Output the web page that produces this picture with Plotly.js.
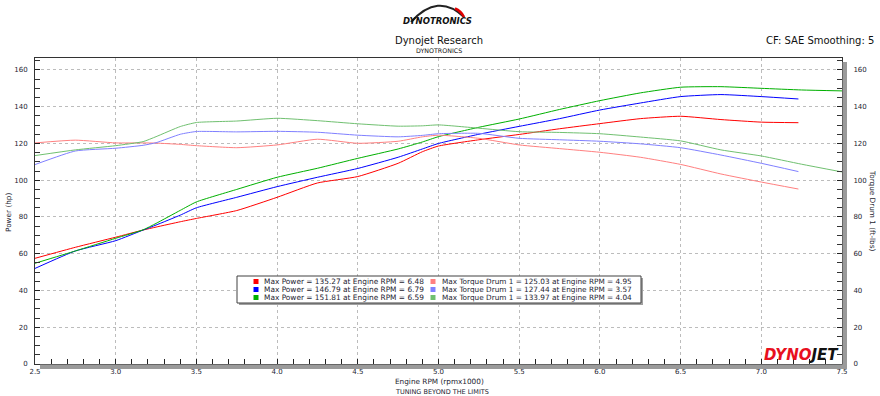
<!DOCTYPE html>
<html>
<head>
<meta charset="utf-8">
<script src="https://cdn.plot.ly/plotly-3.0.1.min.js"></script>
<style>html,body{margin:0;padding:0;background:#fff;}#chart{width:880px;height:396px;}</style>
</head>
<body>
<div id="chart"></div>
<script>
// ---- data ----
const rpmRun1 = [2.5,2.75,3.0,3.17,3.25,3.4,3.5,3.75,4.0,4.25,4.5,4.75,4.9,5.0,5.25,5.5,5.75,6.0,6.25,6.5,6.75,7.0,7.23];
const rpmRun2 = [2.5,2.75,3.0,3.17,3.25,3.4,3.5,3.75,4.0,4.25,4.5,4.75,4.9,5.0,5.25,5.5,5.75,6.0,6.25,6.5,6.75,7.0,7.23];
const rpmRun3 = [2.5,2.75,3.0,3.17,3.25,3.4,3.5,3.75,4.0,4.25,4.5,4.75,4.9,5.0,5.25,5.5,5.75,6.0,6.25,6.5,6.75,7.0,7.25,7.5];

const powerRun1  = [57.5,63.5,69.0,72.9,74.5,77.4,79.2,83.5,90.7,98.5,102.0,109.2,115.5,118.6,122.0,124.9,128.0,130.8,133.5,134.8,133.0,131.6,131.3];
const torqueRun1 = [120.3,121.8,120.3,120.3,120.2,119.5,118.8,117.7,119.2,122.3,120.1,121.2,123.6,124.5,122.8,119.2,117.2,115.2,112.5,108.6,103.4,99.0,95.2];

const powerRun2  = [52.0,61.5,67.1,72.9,75.6,81.0,85.0,90.7,96.5,101.6,106.4,112.5,117.0,120.0,125.0,129.3,133.5,138.2,142.0,145.5,146.6,145.5,144.2];
const torqueRun2 = [108.5,115.9,117.4,119.0,120.4,125.0,126.5,126.3,126.6,126.1,124.5,123.6,124.4,125.3,125.5,122.8,122.0,121.2,119.8,117.7,113.7,109.2,104.7];

const powerRun3  = [54.8,61.5,68.4,73.0,76.5,83.6,88.2,95.0,101.6,106.5,111.9,117.0,120.8,123.7,128.8,133.3,138.5,143.3,147.5,150.6,150.9,150.0,149.1,148.6];
const torqueRun3 = [113.4,116.5,118.8,121.0,123.7,129.2,131.4,132.2,133.7,132.4,130.7,129.4,129.6,130.1,128.3,126.4,126.0,125.3,123.5,121.4,116.5,113.2,108.7,104.5];

const maxPower     = [135.27,146.79,151.81];
const maxPowerRpm  = [6.48,6.79,6.59];
const maxTorque    = [125.03,127.44,133.97];
const maxTorqueRpm = [4.95,3.57,4.04];

const xTickVals = [2.5,3.0,3.5,4.0,4.5,5.0,5.5,6.0,6.5,7.0,7.5];
const yTickVals = [0,20,40,60,80,100,120,140,160];

// ---- styling ----
const powerColors  = ['#ff0000','#0000ff','#00b000'];
const torqueColors = ['#ff8080','#8080ff','#70c070'];
const FONT = 'DejaVu Sans, Verdana, sans-serif';
const TXT = '#1c1c30';

// plot area in pixels: x 35..842, y 58..364
const L = 35, R = 842, T = 58, B = 364;
const px = v => (v - L) / (R - L);
const py = v => (B - v) / (B - T);

const runs = [
  {rpm: rpmRun1, p: powerRun1, t: torqueRun1},
  {rpm: rpmRun2, p: powerRun2, t: torqueRun2},
  {rpm: rpmRun3, p: powerRun3, t: torqueRun3}
];

const traces = [];
runs.forEach((r, i) => {
  traces.push({x: r.rpm, y: r.t, type: 'scatter', mode: 'lines', yaxis: 'y2',
    line: {color: torqueColors[i], width: 1, shape: 'spline', smoothing: 0.5}, showlegend: false, hoverinfo: 'skip'});
});
runs.forEach((r, i) => {
  traces.push({x: r.rpm, y: r.p, type: 'scatter', mode: 'lines', yaxis: 'y',
    line: {color: powerColors[i], width: 1, shape: 'spline', smoothing: 0.5}, showlegend: false, hoverinfo: 'skip'});
});

const shapes = [];
const annotations = [];

// legend box with shadow
shapes.push({type: 'rect', xref: 'paper', yref: 'paper', x0: px(239), x1: px(643), y0: py(305), y1: py(278),
  fillcolor: '#a0a0a0', line: {width: 0}, layer: 'above'});
shapes.push({type: 'rect', xref: 'paper', yref: 'paper', x0: px(237), x1: px(641), y0: py(303), y1: py(276),
  fillcolor: '#ffffff', line: {color: '#404040', width: 1}, layer: 'above'});
const rowsY = [281.5, 289.5, 297.5];
for (let i = 0; i < 3; i++) {
  const y = rowsY[i];
  shapes.push({type: 'rect', xref: 'paper', yref: 'paper', x0: px(253.5), x1: px(258.5), y0: py(y + 2.5), y1: py(y - 2.5),
    fillcolor: powerColors[i], line: {width: 0}, layer: 'above'});
  shapes.push({type: 'rect', xref: 'paper', yref: 'paper', x0: px(430.5), x1: px(435.5), y0: py(y + 2.5), y1: py(y - 2.5),
    fillcolor: torqueColors[i], line: {width: 0}, layer: 'above'});
  annotations.push({xref: 'paper', yref: 'paper', x: px(262), y: py(y), xanchor: 'left', yanchor: 'middle', showarrow: false,
    text: 'Max Power = ' + maxPower[i].toFixed(2) + ' at Engine RPM = ' + maxPowerRpm[i].toFixed(2),
    font: {family: FONT, size: 7.4, color: TXT}});
  annotations.push({xref: 'paper', yref: 'paper', x: px(439.5), y: py(y), xanchor: 'left', yanchor: 'middle', showarrow: false,
    text: 'Max Torque Drum 1 = ' + maxTorque[i].toFixed(2) + ' at Engine RPM = ' + maxTorqueRpm[i].toFixed(2),
    font: {family: FONT, size: 7.3, color: TXT}});
}

// gray shadow bars along bottom and right axes
shapes.push({type: 'rect', xref: 'paper', yref: 'paper', x0: px(40), x1: px(847), y0: py(369), y1: py(364.5),
  fillcolor: '#9a9a9a', line: {width: 0}, layer: 'above'});
shapes.push({type: 'rect', xref: 'paper', yref: 'paper', x0: px(842.5), x1: px(847), y0: py(369), y1: py(62),
  fillcolor: '#9a9a9a', line: {width: 0}, layer: 'above'});

// top logo gauge arc
shapes.push({type: 'path', xref: 'paper', yref: 'paper', layer: 'above',
  path: 'M ' + px(411) + ',' + py(22) + ' Q ' + px(438) + ',' + py(-8) + ' ' + px(464) + ',' + py(17),
  line: {color: '#222', width: 2}});
shapes.push({type: 'path', xref: 'paper', yref: 'paper', layer: 'above',
  path: 'M ' + px(455) + ',' + py(8.5) + ' Q ' + px(461) + ',' + py(11) + ' ' + px(464) + ',' + py(17),
  line: {color: '#e00000', width: 2.5}});

// header texts
annotations.push({xref: 'paper', yref: 'paper', x: px(437), y: py(21.5), xanchor: 'center', yanchor: 'middle', showarrow: false,
  text: '<b><i>DYNOTRONICS</i></b>', font: {family: FONT, size: 8.5, color: '#111'}});
annotations.push({xref: 'paper', yref: 'paper', x: px(439), y: py(40), xanchor: 'center', yanchor: 'middle', showarrow: false,
  text: 'Dynojet Research', font: {family: FONT, size: 10, color: '#111'}});
annotations.push({xref: 'paper', yref: 'paper', x: px(439), y: py(50.5), xanchor: 'center', yanchor: 'middle', showarrow: false,
  text: 'DYNOTRONICS', font: {family: FONT, size: 6.3, color: '#111'}});
annotations.push({xref: 'paper', yref: 'paper', x: px(876), y: py(40), xanchor: 'right', yanchor: 'middle', showarrow: false,
  text: 'CF: SAE Smoothing: 5', font: {family: FONT, size: 10, color: '#111'}});

// axis titles and footer
annotations.push({xref: 'paper', yref: 'paper', x: px(440), y: py(381.5), xanchor: 'center', yanchor: 'middle', showarrow: false,
  text: 'Engine RPM (rpmx1000)', font: {family: FONT, size: 7.3, color: TXT}});
annotations.push({xref: 'paper', yref: 'paper', x: px(442), y: py(392), xanchor: 'center', yanchor: 'middle', showarrow: false,
  text: 'TUNING BEYOND THE LIMITS', font: {family: FONT, size: 6.5, color: TXT}});
annotations.push({xref: 'paper', yref: 'paper', x: px(8), y: py(213), xanchor: 'center', yanchor: 'middle', showarrow: false,
  textangle: -90, text: 'Power (hp)', font: {family: FONT, size: 7.3, color: TXT}});
annotations.push({xref: 'paper', yref: 'paper', x: px(873), y: py(210), xanchor: 'center', yanchor: 'middle', showarrow: false,
  textangle: 90, text: 'Torque Drum 1 (ft-lbs)', font: {family: FONT, size: 7.3, color: TXT}});

// DYNOJET logo
annotations.push({xref: 'paper', yref: 'paper', x: px(841), y: py(355), xanchor: 'right', yanchor: 'middle', showarrow: false,
  text: '<b><i><span style="color:#e8101e">DYNO</span><span style="color:#111">JET</span></i></b>',
  font: {family: FONT, size: 15, color: '#111'}});

const yCommon = {
  range: [0, 166.5], tickvals: yTickVals, ticktext: yTickVals.map(String),
  ticks: 'inside', ticklen: 5, tickwidth: 1, tickcolor: '#222',
  minor: {dtick: 5, ticks: 'inside', ticklen: 5, tickcolor: '#333', showgrid: false},
  tickfont: {family: FONT, size: 7, color: TXT},
  showline: true, linecolor: '#333', linewidth: 1,
  zeroline: false, fixedrange: true
};

const layout = {
  width: 880, height: 396,
  margin: {l: L, r: 880 - R, t: T, b: 396 - B, pad: 0},
  paper_bgcolor: '#ffffff', plot_bgcolor: '#ffffff',
  showlegend: false,
  xaxis: {
    range: [2.5, 7.5], tickvals: xTickVals, ticktext: xTickVals.map(v => v.toFixed(1)),
    ticks: 'inside', ticklen: 5, tickcolor: '#222',
    minor: {dtick: 0.1, tick0: 2.5, ticks: 'inside', ticklen: 5, tickcolor: '#222', showgrid: false},
    showgrid: true, gridcolor: '#bcbcbc', griddash: '3px,3px', gridwidth: 1,
    showline: true, mirror: true, linecolor: '#333', linewidth: 1,
    tickfont: {family: FONT, size: 7, color: TXT}, ticklabelstandoff: 1,
    zeroline: false, fixedrange: true
  },
  yaxis: Object.assign({}, yCommon, {
    side: 'left', showgrid: true, gridcolor: '#bcbcbc', griddash: '3px,3px', gridwidth: 1,
    ticklabelstandoff: 5
  }),
  yaxis2: Object.assign({}, yCommon, {
    side: 'right', overlaying: 'y', showgrid: false, ticklabelstandoff: 9
  }),
  shapes: shapes,
  annotations: annotations
};

Plotly.newPlot('chart', traces, layout, {displayModeBar: false, staticPlot: true});
</script>
</body>
</html>
